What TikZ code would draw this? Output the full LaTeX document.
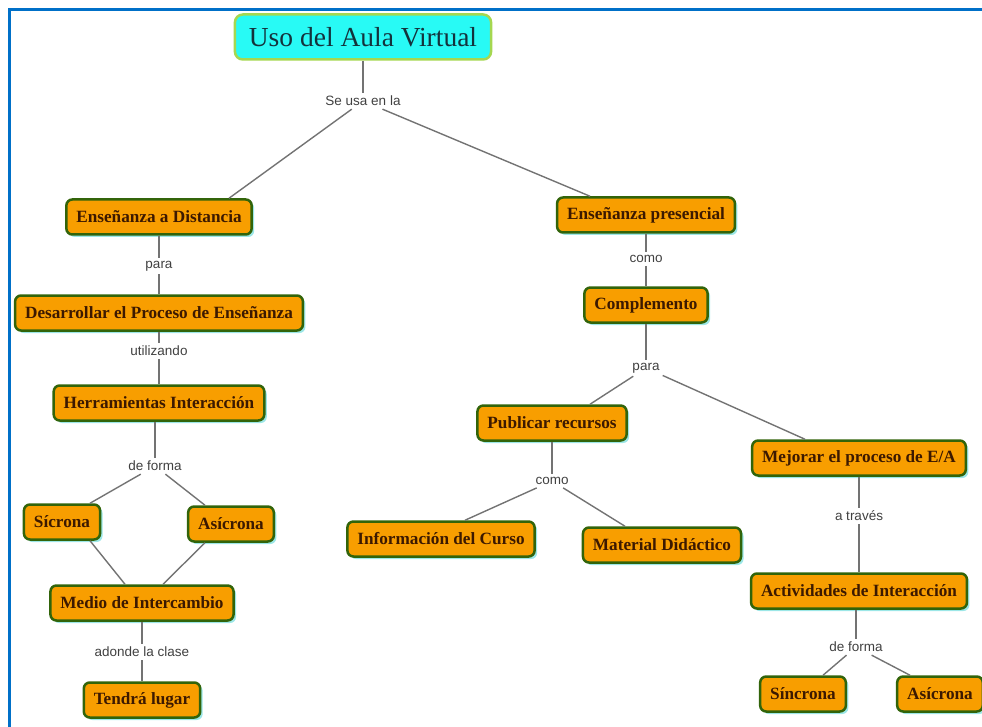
\documentclass[tikz,border=0pt]{standalone}
\usepackage{fontspec}
\setmainfont{Liberation Serif}
\newfontfamily\linkfont{Liberation Sans}
\usetikzlibrary{shadows}
\definecolor{conceptfill}{RGB}{248,158,0}
\definecolor{conceptline}{RGB}{50,100,10}
\definecolor{concepttext}{RGB}{60,25,0}
\definecolor{conceptshadow}{RGB}{90,215,215}
\definecolor{titlefill}{RGB}{40,250,245}
\definecolor{titleline}{RGB}{165,215,80}
\definecolor{titletext}{RGB}{20,50,60}
\definecolor{linkgray}{RGB}{115,115,115}
\definecolor{frameblue}{RGB}{0,112,200}
\tikzset{
  concept/.style={draw=conceptline, line width=2.5pt, fill=conceptfill, rounded corners=6pt,
    minimum height=35pt, inner xsep=10pt, text=concepttext,
    font=\fontsize{17.2}{19}\selectfont\bfseries,
    drop shadow={shadow xshift=2.5pt, shadow yshift=-2.5pt, fill=conceptshadow, opacity=0.6}},
  titlebox/.style={draw=titleline, line width=2.5pt, fill=titlefill, rounded corners=8pt,
    minimum height=45pt, inner xsep=14pt, text=titletext,
    font=\fontsize{27.5}{29}\selectfont},
  linkword/.style={font=\linkfont\fontsize{13.5}{15}\selectfont, text=black!75, inner sep=3pt},
  link/.style={draw=linkgray, line width=1.4pt}
}
\begin{document}
\begin{tikzpicture}[x=1pt,y=-1pt]
  \useasboundingbox (0,0) rectangle (982,727);
  \draw [frameblue, line width=3pt] (9.5,727) -- (9.5,9.5) -- (982,9.5);

  % root
  \node [titlebox] (uso) at (363,37) {Uso del Aula Virtual};
  \node [linkword] (seusa) at (363,101) {Se usa en la};

  % left branch
  \node [concept] (distancia) at (159,217) {Enseñanza a Distancia};
  \node [linkword] (para1) at (159,266) {para};
  \node [concept] (desarrollar) at (159,313) {Desarrollar el Proceso de Enseñanza};
  \node [linkword] (utilizando) at (159,351) {utilizando};
  \node [concept] (herramientas) at (159,403) {Herramientas Interacción};
  \node [linkword] (forma1) at (155,466) {de forma};
  \node [concept] (sicrona) at (62,522) {Sícrona};
  \node [concept] (asicrona1) at (231,524) {Asícrona};
  \node [concept] (medio) at (142,603) {Medio de Intercambio};
  \node [linkword] (adonde) at (142,652) {adonde la clase};
  \node [concept] (tendra) at (142,700) {Tendrá lugar};

  % right branch
  \node [concept] (presencial) at (646,215) {Enseñanza presencial};
  \node [linkword] (como1) at (646,259) {como};
  \node [concept] (complemento) at (646,305) {Complemento};
  \node [linkword] (para2) at (646,368) {para};
  \node [concept] (publicar) at (552,423) {Publicar recursos};
  \node [linkword] (como2) at (552,481) {como};
  \node [concept] (informacion) at (441,539) {Información del Curso};
  \node [concept] (material) at (662,545) {Material Didáctico};
  \node [concept] (mejorar) at (859,458) {Mejorar el proceso de E/A};
  \node [linkword] (traves) at (859,516) {a través};
  \node [concept] (actividades) at (859,591) {Actividades de Interacción};
  \node [linkword] (forma2) at (856,647) {de forma};
  \node [concept] (sincrona) at (803,694) {Síncrona};
  \node [concept] (asicrona2) at (940,694) {Asícrona};

  % links
  \draw [link] (uso) -- (seusa);
  \draw [link] (seusa) -- ([xshift=70pt]distancia.north);
  \draw [link] (seusa) -- ([xshift=-56pt]presencial.north);

  \draw [link] (distancia) -- (para1);
  \draw [link] (para1) -- (desarrollar);
  \draw [link] (desarrollar) -- (utilizando);
  \draw [link] (utilizando) -- (herramientas);
  \draw [link] (herramientas.south -| forma1) -- (forma1);
  \draw [link] (forma1) -- ([xshift=28pt]sicrona.north);
  \draw [link] (forma1) -- ([xshift=-26pt]asicrona1.north);
  \draw [link] ([xshift=28pt]sicrona.south) -- ([xshift=-17pt]medio.north);
  \draw [link] ([xshift=-26pt]asicrona1.south) -- ([xshift=21pt]medio.north);
  \draw [link] (medio) -- (adonde);
  \draw [link] (adonde) -- (tendra);

  \draw [link] (presencial) -- (como1);
  \draw [link] (como1) -- (complemento);
  \draw [link] (complemento) -- (para2);
  \draw [link] (para2) -- ([xshift=38pt]publicar.north);
  \draw [link] (para2) -- ([xshift=-54pt]mejorar.north);
  \draw [link] (publicar) -- (como2);
  \draw [link] (como2) -- ([xshift=24pt]informacion.north);
  \draw [link] (como2) -- ([xshift=-37pt]material.north);
  \draw [link] (mejorar) -- (traves);
  \draw [link] (traves) -- (actividades);
  \draw [link] (actividades.south -| forma2) -- (forma2);
  \draw [link] (forma2) -- ([xshift=20pt]sincrona.north);
  \draw [link] (forma2) -- ([xshift=-30pt]asicrona2.north);
\end{tikzpicture}
\end{document}
